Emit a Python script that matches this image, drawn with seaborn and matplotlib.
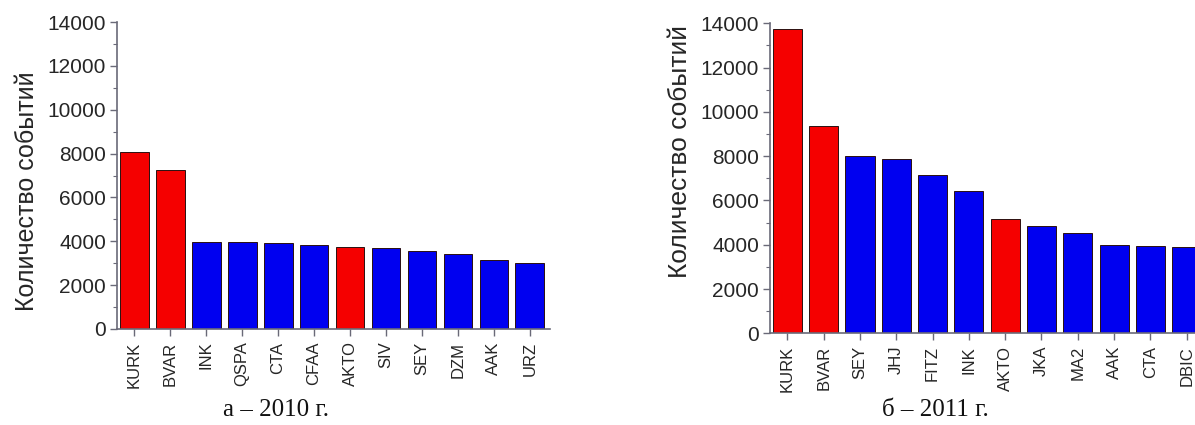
import matplotlib
matplotlib.use("Agg")
import matplotlib.pyplot as plt
from matplotlib.ticker import MultipleLocator
import seaborn as sns
import pandas as pd

# Event counts per station
stations_2010 = ["KURK", "BVAR", "INK", "QSPA", "CTA", "CFAA", "AKTO", "SIV", "SEY", "DZM", "AAK", "URZ"]
events_2010 = [8050, 7250, 3950, 3950, 3900, 3830, 3760, 3710, 3570, 3420, 3130, 3000]

stations_2011 = ["KURK", "BVAR", "SEY", "JHJ", "FITZ", "INK", "AKTO", "JKA", "MA2", "AAK", "CTA", "DBIC"]
events_2011 = [13750, 9360, 8020, 7870, 7150, 6430, 5150, 4830, 4520, 3990, 3940, 3880]

highlighted = ["KURK", "BVAR", "AKTO"]
y_ticks = [0, 2000, 4000, 6000, 8000, 10000, 12000, 14000]

y_label = "Количество событий"
caption_2010 = "а – 2010 г."
caption_2011 = "б – 2011 г."

RED = "#f50000"
BLUE = "#0000f0"
AXIS = "#6a6a78"
TEXT = "#262626"

sns.set_theme(style="ticks")
plt.rcParams["font.family"] = ["Liberation Sans", "DejaVu Sans"]

fig = plt.figure(figsize=(11.95, 4.25), dpi=100)

W, H = 1195.0, 425.0


def panel(left_px, right_px, top_px, bottom_px, stations, events,
          label_size, label_x, label_y):
    ax = fig.add_axes([left_px / W, 1 - bottom_px / H,
                       (right_px - left_px) / W, (bottom_px - top_px) / H])
    df = pd.DataFrame({"station": stations, "events": events})
    colors = [RED if s in highlighted else BLUE for s in stations]
    sns.barplot(data=df, x="station", y="events", hue="station",
                palette=colors, legend=False, width=0.8,
                edgecolor="#2a1010", linewidth=0.7, saturation=1, ax=ax)
    ax.set_xlim(-0.48, len(stations) - 0.44)
    ax.set_ylim(0, 14000)
    ax.set_yticks(y_ticks)
    ax.yaxis.set_minor_locator(MultipleLocator(1000))
    ax.set_xlabel("")
    ax.set_ylabel(y_label, fontsize=label_size, color=TEXT)
    ax.yaxis.set_label_coords(label_x, label_y)
    for side in ("top", "right"):
        ax.spines[side].set_visible(False)
    for side in ("left", "bottom"):
        ax.spines[side].set_color(AXIS)
        ax.spines[side].set_linewidth(1.2)
    ax.tick_params(axis="y", which="major", length=5, width=1, color=AXIS,
                   labelsize=15, labelcolor=TEXT, pad=3)
    ax.tick_params(axis="y", which="minor", length=3, width=0.8, color=AXIS)
    ax.tick_params(axis="x", which="major", length=5, width=1, color=AXIS,
                   labelsize=12, labelcolor=TEXT, labelrotation=90, pad=4)
    return ax


ax1 = panel(117, 550, 22, 329, stations_2010, events_2010, 18, -0.18, 0.45)
ax2 = panel(770, 1207, 23.3, 333.3, stations_2011, events_2011, 19, -0.178, 0.588)

fig.text(276 / W, 1 - 410 / H, caption_2010, ha="center", va="center",
         fontsize=18, family="Liberation Serif", color="#111111")
fig.text(935 / W, 1 - 410 / H, caption_2011, ha="center", va="center",
         fontsize=18, family="Liberation Serif", color="#111111")

fig.savefig("out.png", dpi=100, facecolor="white")
